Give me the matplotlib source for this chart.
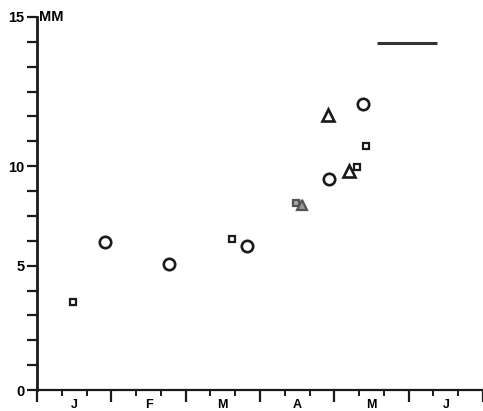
import matplotlib
matplotlib.use("Agg")
import matplotlib.pyplot as plt
import matplotlib.transforms as mtransforms

plt.rcParams['font.family'] = ['Liberation Sans', 'DejaVu Sans']

# x in months from 1 January, y in the chart's linear millimetre scale
circle_x = [0.91, 1.78, 2.82, 3.93, 4.38]
circle_y = [5.94, 5.07, 5.81, 8.47, 11.5]
square_x = [0.49, 2.62, 4.30, 4.42]
square_y = [3.53, 6.06, 8.97, 9.81]
triangle_x = [3.92, 4.20]
triangle_y = [11.06, 8.81]
grey_square_x = [3.49]
grey_square_y = [7.52]
grey_triangle_x = [3.56]
grey_triangle_y = [7.44]
bar_x = [4.57, 5.38]
bar_y = [13.96, 13.96]

month_labels = ['J', 'F', 'M', 'A', 'M', 'J']
ytick_pos = [0, 5, 9, 15]
ytick_text = ['0', '5', '10', '15']

fig = plt.figure(figsize=(4.83, 4.11), dpi=100)
ax = fig.add_axes([37/483, 21/411, 1 - 37/483, 373/411])
ax.set_xlim(0, 6)
ax.set_ylim(0, 15)

for s in ['top', 'right']:
    ax.spines[s].set_visible(False)
ax.spines['left'].set_linewidth(2.0)
ax.spines['bottom'].set_linewidth(1.6)
ax.spines['left'].set_color('#1a1a1a')
ax.spines['bottom'].set_color('#1a1a1a')

# y ticks every unit; labels only at the labelled ones
ax.set_yticks(range(16))
ax.set_yticklabels([ytick_text[ytick_pos.index(v)] if v in ytick_pos else '' for v in range(16)],
                   fontsize=10.5, fontweight='bold')
ax.tick_params(axis='y', direction='out', length=7.5, width=1.6, pad=1.5, color='#1a1a1a')

# x ticks: months major, thirds minor
ax.set_xticks(range(7))
ax.set_xticklabels([])
ax.set_xticks([m + f for m in range(6) for f in (1/3, 2/3)], minor=True)
ax.tick_params(axis='x', which='major', direction='out', length=8.5, width=1.6, color='#1a1a1a')
ax.tick_params(axis='x', which='minor', direction='out', length=4, width=1.4, color='#1a1a1a')

trans = mtransforms.blended_transform_factory(ax.transData, fig.transFigure)
for i, lab in enumerate(month_labels):
    fig.text(i + 0.5, 0.5/411, lab, transform=trans, ha='center', va='bottom',
             fontsize=9, fontweight='bold')

ax.text(0.005, 15, 'MM', transform=mtransforms.blended_transform_factory(ax.transAxes, ax.transData),
        ha='left', va='center', fontsize=10.5, fontweight='bold', clip_on=False)

ax.plot(circle_x, circle_y, 'o', ms=8.2, mfc='white', mec='#1a1a1a', mew=1.9, clip_on=False)
ax.plot(square_x, square_y, 's', ms=5.0, mfc='white', mec='#1a1a1a', mew=1.6, clip_on=False)
ax.plot(triangle_x, triangle_y, '^', ms=8.0, mfc='white', mec='#1a1a1a', mew=1.9, clip_on=False)
ax.plot(grey_square_x, grey_square_y, 's', ms=5.0, mfc='#aaaaaa', mec='#555555', mew=1.6)
ax.plot(grey_triangle_x, grey_triangle_y, '^', ms=7.5, mfc='#999999', mec='#555555', mew=1.6)
ax.plot(bar_x, bar_y, '-', lw=2.2, color='#333333', solid_capstyle='butt')

fig.savefig('out.png', dpi=100)
